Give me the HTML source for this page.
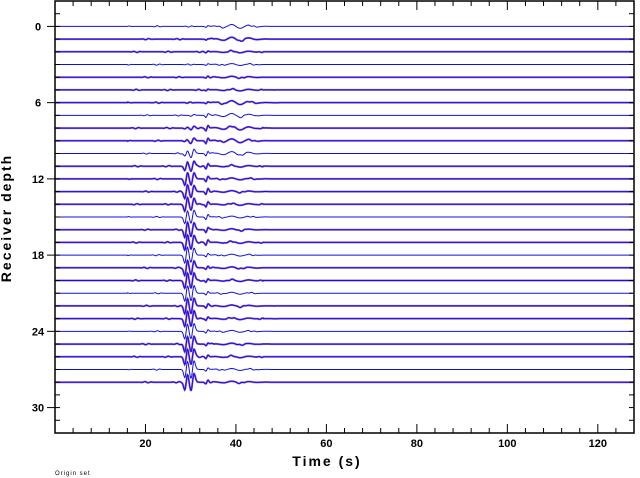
<!DOCTYPE html>
<html><head><meta charset="utf-8">
<style>
html,body{margin:0;padding:0;background:#fff;}
svg{display:block;font-family:"Liberation Sans",sans-serif;}
</style></head>
<body>
<svg id="chart" width="640" height="478" viewBox="0 0 640 478" xmlns="http://www.w3.org/2000/svg">
<g id="traces"></g>
<g id="axes"></g>
<text x="327" y="466" font-size="14" font-weight="bold" text-anchor="middle" letter-spacing="2">Time (s)</text>
<text transform="translate(11,218) rotate(-90)" font-size="14" font-weight="bold" text-anchor="middle" letter-spacing="2">Receiver depth</text>
<text x="55" y="475" font-size="6" letter-spacing="1">Origin set</text>
</svg>
<script>
// ---- data ----
const depths = [0,1,2,3,4,5,6,7,8,9,10,11,12,13,14,15,16,17,18,19,20,21,22,23,24,25,26,27,28];
const pulse1 = [0,0,0,0,0,0,0,0,1,1,3,5,7,8,8,8,9,9,9,9,9,9,9,9,9,9,9,9,9];
const pulse2 = [0,0,0,0,0,0,0,1,2,3,5,6,7,7,7,8,8,8,8,8,9,9,9,9,9,9,9,10,10];
const pulse3 = [1,1,1,1,1,1,1,2,3,3,3,3,3,3,3,3,3,3,2,2,2,2,2,2,2,2,2,2,2];
const surface = [2,2,1,1,1,1,2,2,2,2,2,1,1,1,1,1,1,1,1,1,1,1,1,1,1,1,1,1,1];
const purple = [0,1,1,0,1,1,1,0,1,1,0,1,1,1,1,0,1,1,0,1,1,0,1,1,0,1,1,0,1];
const xTicks = [20,40,60,80,100,120];
const yTicks = [0,6,12,18,24,30];

// ---- axes ----
const X0=55, X1=634, Y0=1, Y1=433;
const tMin=0, tMax=128, dMin=-2, dMax=32;
const sx = t => X0 + (t-tMin)/(tMax-tMin)*(X1-X0);
const sy = d => Y0 + (d-dMin)/(dMax-dMin)*(Y1-Y0);
const NS="http://www.w3.org/2000/svg";
const trG=document.getElementById('traces'), axG=document.getElementById('axes');
function mk(tag,attrs,parent){const e=document.createElementNS(NS,tag);for(const k in attrs)e.setAttribute(k,attrs[k]);parent.appendChild(e);return e;}
function g1(t,t0,w){const u=(t-t0)/w;return -u*Math.exp(-u*u);}
function wig(t,i){
  if(t<16||t>46) return 0;
  const env=Math.max(0,Math.sin(t*0.9+i*2.1));
  return 0.9*env*env*Math.sin(t*4.1+i*1.3);
}
depths.forEach((d,i)=>{
  const y=sy(d);
  let pts=[];
  for(let t=tMin;t<=tMax;t+=0.12){
    const v = pulse1[i]*g1(t,29.0,0.45)*2 + pulse2[i]*g1(t,30.4,0.5)*2
      + pulse3[i]*g1(t,33.6,0.35)*2 + surface[i]*Math.sin((t-40)*1.6)*Math.exp(-Math.pow((t-40)/4,2))
      + wig(t,i)*0.7;
    pts.push(sx(t).toFixed(1)+','+(y+v).toFixed(1));
  }
  const p=pts.join(' ');
  if(purple[i]){
    const u=mk('polyline',{points:p,fill:'none',stroke:'#a060c8','stroke-width':'2'},trG);
    
    
  }
  const l=mk('polyline',{points:p,fill:'none',stroke:'#1010e0','stroke-width':'1'},trG);
  
  
});
const fr=mk('rect',{x:X0,y:Y0,width:X1-X0,height:Y1-Y0,fill:'none',stroke:'#000','stroke-width':'1.5'},axG);


for(let t=4;t<tMax;t+=4){
  const maj=t%20===0, x=sx(t), L=maj?9:5;
  mk('line',{x1:x,y1:Y1,x2:x,y2:Y1-L,stroke:'#000','stroke-width':'1'},axG);
  mk('line',{x1:x,y1:Y0,x2:x,y2:Y0+L,stroke:'#000','stroke-width':'1'},axG);
}
for(let d=-1;d<dMax;d++){
  const maj=d%6===0, y=sy(d);
  mk('line',{x1:X0,y1:y,x2:X0+5,y2:y,stroke:'#000','stroke-width':'1'},axG);
  mk('line',{x1:X1,y1:y,x2:X1-5,y2:y,stroke:'#000','stroke-width':'1'},axG);
  if(maj){mk('line',{x1:X0-8,y1:y,x2:X0,y2:y,stroke:'#000','stroke-width':'1'},axG);}
}
xTicks.forEach(t=>{
  const e=mk('text',{x:sx(t),y:447,'font-size':'11','font-weight':'bold','text-anchor':'middle'},axG);
  e.textContent=t;
  
  
});
yTicks.forEach(d=>{
  const e=mk('text',{x:38,y:sy(d)+4,'font-size':'11','font-weight':'bold','text-anchor':'middle'},axG);
  e.textContent=d;
  
  
});
</script>
</body></html>
